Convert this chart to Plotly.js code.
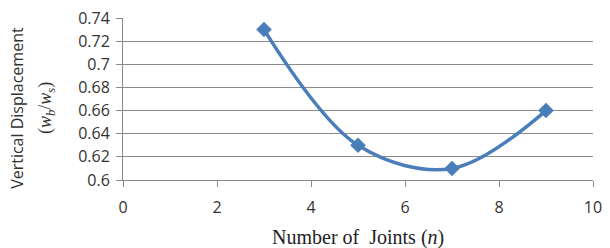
<!DOCTYPE html>
<html><head><meta charset="utf-8">
<script src="https://cdn.plot.ly/plotly-3.0.1.min.js"></script>
<style>html,body{margin:0;padding:0;background:#fff}</style>
</head><body>
<div id="chart" style="width:610px;height:248px"></div>
<script>
const joints = [3, 5, 7, 9];
const displacement = [0.73, 0.63, 0.61, 0.66];
const xTicks = [0, 2, 4, 6, 8, 10];
const yTicks = [0.6, 0.62, 0.64, 0.66, 0.68, 0.7, 0.72, 0.74];
const yTickText = ['0.6', '0.62', '0.64', '0.66', '0.68', '0.7', '0.72', '0.74'];
const xTitle = 'Number of  Joints (<i>n</i>)';
const yTitle1 = 'Vertical Displacement';
const yTitle2 = '(<i>w<sub>b</sub></i>/<i>w<sub>s</sub></i>)';

const trace = {
  x: joints, y: displacement, type: 'scatter', mode: 'lines+markers',
  line: {color: '#4A7EBB', width: 3.5, shape: 'spline', smoothing: 1},
  marker: {symbol: 'diamond', size: 12, color: '#4A7EBB'},
  hoverinfo: 'none'
};
const layout = {
  width: 610, height: 248,
  margin: {l: 123, r: 17, t: 18, b: 68},
  paper_bgcolor: '#fff', plot_bgcolor: '#fff',
  showlegend: false,
  font: {family: 'Open Sans, sans-serif', size: 16, color: '#333'},
  xaxis: {
    range: [0, 10], tickvals: xTicks, ticktext: xTicks.map(String),
    showgrid: false, zeroline: false,
    showline: true, linecolor: '#888', linewidth: 1,
    ticks: 'outside', ticklen: 6, tickcolor: '#888',
    ticklabelstandoff: 7
  },
  yaxis: {
    range: [0.6, 0.74], tickvals: yTicks, ticktext: yTickText,
    showgrid: true, gridcolor: '#8a8a8a', gridwidth: 1,
    zeroline: false,
    showline: true, linecolor: '#888', linewidth: 1,
    ticks: 'outside', ticklen: 6, tickcolor: '#888',
    ticklabelstandoff: 3
  },
  annotations: [
    {text: xTitle, xref: 'paper', yref: 'paper', x: 0.5, y: -0.352, showarrow: false,
     xanchor: 'center', yanchor: 'middle',
     font: {family: 'Liberation Serif, serif', size: 20, color: '#222'}},
    {text: yTitle1, xref: 'paper', yref: 'paper', x: -0.226, y: 0.444, showarrow: false,
     textangle: -90, xanchor: 'center', yanchor: 'middle',
     font: {family: 'Open Sans, sans-serif', size: 16, color: '#333'}},
    {text: yTitle2, xref: 'paper', yref: 'paper', x: -0.164, y: 0.444, showarrow: false,
     textangle: -90, xanchor: 'center', yanchor: 'middle',
     font: {family: 'Liberation Serif, serif', size: 18, color: '#333'}}
  ]
};
Plotly.newPlot('chart', [trace], layout, {displayModeBar: false, staticPlot: true});
</script>
</body></html>
